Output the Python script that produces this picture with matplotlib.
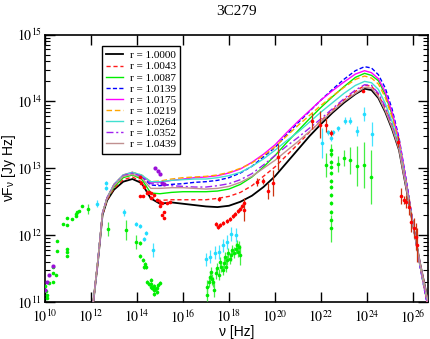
import numpy as np
import matplotlib
matplotlib.use("Agg")
import matplotlib.pyplot as plt
from matplotlib.ticker import FixedLocator, LogLocator, NullFormatter, NullLocator

plt.rcParams['mathtext.fontset'] = 'stix'
plt.rcParams['font.family'] = ['Liberation Serif', 'DejaVu Serif']

# ---------------- model curves (log10 nu, log10 nuFnu) ----------------
lognu_grid = [12.1, 12.3, 12.5, 12.7, 13.0, 13.4, 13.8, 14.2, 14.6, 15.0, 15.5, 16.0,
              16.5, 17.0, 17.5, 18.0, 18.5, 19.0, 19.5, 20.0, 20.5, 21.0, 21.5, 22.0,
              22.5, 23.0, 23.5, 23.9, 24.2, 24.5, 24.8, 25.1, 25.4, 25.7, 26.0, 26.3, 26.67]

r_labels = ["r = 1.0000", "r = 1.0043", "r = 1.0087", "r = 1.0139", "r = 1.0175",
            "r = 1.0219", "r = 1.0264", "r = 1.0352", "r = 1.0439"]

model_r10000 = [11.0, 11.6, 12.30, 12.52, 12.68, 12.80, 12.84, 12.78, 12.55, 12.47, 12.49, 12.47,
                12.45, 12.43, 12.42, 12.44, 12.50, 12.59, 12.72, 12.88, 13.08, 13.28, 13.48, 13.66,
                13.83, 13.98, 14.11, 14.19, 14.17, 14.05, 13.84, 13.58, 13.27, 12.72, 12.17, 11.60, 11.00]
model_r10043 = [11.0, 11.6, 12.30, 12.53, 12.70, 12.83, 12.87, 12.80, 12.57, 12.52, 12.53, 12.53,
                12.53, 12.53, 12.55, 12.58, 12.64, 12.74, 12.88, 13.02, 13.19, 13.36, 13.54, 13.71,
                13.87, 14.02, 14.15, 14.24, 14.23, 14.10, 13.89, 13.63, 13.30, 12.74, 12.17, 11.59, 10.98]
model_r10087 = [11.0, 11.62, 12.32, 12.55, 12.72, 12.86, 12.90, 12.84, 12.63, 12.62, 12.64, 12.65,
                12.65, 12.65, 12.66, 12.69, 12.76, 12.87, 13.02, 13.19, 13.38, 13.56, 13.74, 13.91,
                14.07, 14.22, 14.36, 14.42, 14.39, 14.31, 14.10, 13.80, 13.40, 12.81, 12.19, 11.56, 10.91]
model_r10139 = [11.0, 11.62, 12.33, 12.56, 12.75, 12.89, 12.93, 12.88, 12.75, 12.74, 12.76, 12.77,
                12.79, 12.80, 12.82, 12.86, 12.93, 13.03, 13.17, 13.31, 13.50, 13.68, 13.85, 14.02,
                14.18, 14.33, 14.46, 14.52, 14.50, 14.40, 14.20, 13.88, 13.45, 12.85, 12.20, 11.55, 10.88]
model_r10175 = [11.0, 11.62, 12.33, 12.56, 12.76, 12.90, 12.94, 12.89, 12.79, 12.79, 12.82, 12.84,
                12.86, 12.87, 12.89, 12.93, 12.99, 13.09, 13.21, 13.35, 13.53, 13.70, 13.86, 14.02,
                14.16, 14.29, 14.41, 14.46, 14.43, 14.34, 14.14, 13.83, 13.42, 12.83, 12.19, 11.56, 10.90]
model_r10219 = [11.0, 11.62, 12.33, 12.56, 12.76, 12.90, 12.94, 12.90, 12.80, 12.81, 12.84, 12.86,
                12.87, 12.88, 12.90, 12.94, 13.00, 13.08, 13.19, 13.32, 13.48, 13.64, 13.79, 13.94,
                14.08, 14.21, 14.33, 14.38, 14.35, 14.26, 14.06, 13.76, 13.38, 12.80, 12.19, 11.57, 10.93]
model_r10264 = [11.0, 11.62, 12.33, 12.56, 12.76, 12.90, 12.94, 12.90, 12.80, 12.80, 12.82, 12.83,
                12.84, 12.84, 12.86, 12.89, 12.94, 13.03, 13.14, 13.27, 13.41, 13.54, 13.69, 13.84,
                13.98, 14.12, 14.24, 14.30, 14.28, 14.18, 13.97, 13.69, 13.33, 12.77, 12.18, 11.58, 10.96]
model_r10352 = [11.0, 11.62, 12.33, 12.56, 12.75, 12.89, 12.93, 12.88, 12.77, 12.76, 12.74, 12.73,
                12.72, 12.72, 12.74, 12.77, 12.83, 12.92, 13.05, 13.19, 13.33, 13.46, 13.60, 13.74,
                13.89, 14.04, 14.17, 14.25, 14.24, 14.12, 13.92, 13.64, 13.31, 12.75, 12.18, 11.59, 10.97]
model_r10439 = [11.0, 11.63, 12.33, 12.55, 12.74, 12.88, 12.91, 12.86, 12.70, 12.70, 12.71, 12.71,
                12.70, 12.69, 12.70, 12.73, 12.79, 12.88, 13.00, 13.12, 13.26, 13.40, 13.55, 13.70,
                13.85, 14.00, 14.12, 14.21, 14.20, 14.07, 13.86, 13.60, 13.28, 12.73, 12.17, 11.60, 10.99]

models = [model_r10000, model_r10043, model_r10087, model_r10139, model_r10175,
          model_r10219, model_r10264, model_r10352, model_r10439]
model_colors = ['#000000', '#ff1a1a', '#00ee00', '#0000ff', '#ff00ff',
                '#ffa500', '#40e0d0', '#a020f0', '#c09090']
model_styles = ['-', (0, (3, 2)), '-', (0, (3, 1.6)), '-', (0, (4, 2)), '-', (0, (5, 2, 1.5, 2)), '-']

# ---------------- data points (log10 nu, log10 nuFnu, error in dex) ----------------
green_lognu = [10.00, 10.04, 10.07, 10.07, 10.19, 10.36, 10.34, 10.48, 10.36, 10.54, 10.54, 10.80,
               10.97, 10.97, 10.97, 10.97, 10.97, 11.19, 11.35, 11.35, 11.41, 11.48, 11.60, 11.86,
               12.72, 13.54,
               13.97, 14.15, 14.15, 14.25, 14.34, 14.40, 14.29,
               14.45, 14.54, 14.59, 14.63, 14.67, 14.72, 14.76, 14.80, 14.85, 14.89, 14.93, 14.98,
               14.72, 14.63,
               17.03, 17.06, 17.17, 17.21, 17.32, 17.35, 17.42, 17.50, 17.57, 17.64, 17.72, 17.79,
               17.86, 17.93, 17.96, 18.05, 18.11, 18.15, 18.22, 18.30, 18.37, 18.40, 18.44, 18.48,
               17.12, 17.25, 17.60, 17.82,
               22.23, 22.74, 23.00, 23.28, 23.57, 23.87, 24.19,
               22.45, 22.45, 22.45, 22.45, 22.45, 22.45, 22.45, 22.45, 22.45, 22.45, 22.45, 22.45]
green_logF = [11.24, 11.16, 11.11, 11.06, 11.29, 11.30, 11.44, 11.41, 11.52, 11.77, 11.91, 12.17,
              12.15, 12.25, 11.80, 11.75, 11.69, 12.24, 12.28, 12.31, 12.34, 12.36, 12.43, 12.39,
              12.09, 12.08,
              11.90, 11.88, 11.69, 11.63, 11.57, 11.53, 11.53,
              11.30, 11.27, 11.23, 11.27, 11.21, 11.18, 11.24, 11.20, 11.15, 11.21, 11.26, 11.29,
              11.12, 11.33,
              11.23, 11.11, 11.38, 11.45, 11.30, 11.18, 11.43, 11.51, 11.41, 11.53, 11.48, 11.58,
              11.53, 11.63, 11.73, 11.65, 11.70, 11.78, 11.74, 11.80, 11.85, 11.75, 11.83, 11.70,
              11.30, 11.34, 11.60, 11.67,
              13.05, 13.07, 13.15, 13.12, 13.03, 13.05, 12.87,
              13.27, 13.22, 13.10, 13.02, 12.93, 12.81, 12.72, 12.60, 12.48, 12.35, 12.23, 12.10]
green_err = [0.0, 0.0, 0.0, 0.0, 0.0, 0.0, 0.0, 0.0, 0.0, 0.0, 0.0, 0.0,
             0.0, 0.0, 0.0, 0.0, 0.0, 0.0, 0.0, 0.0, 0.0, 0.0, 0.0, 0.08,
             0.10, 0.15,
             0.10, 0.03, 0.03, 0.03, 0.03, 0.03, 0.03,
             0.03, 0.03, 0.03, 0.03, 0.03, 0.03, 0.03, 0.03, 0.03, 0.03, 0.03, 0.03,
             0.03, 0.03,
             0.10, 0.10, 0.08, 0.08, 0.08, 0.10, 0.08, 0.08, 0.08, 0.08, 0.08, 0.08,
             0.08, 0.08, 0.08, 0.08, 0.08, 0.08, 0.08, 0.08, 0.08, 0.08, 0.08, 0.15,
             0.08, 0.08, 0.08, 0.08,
             0.18, 0.12, 0.12, 0.20, 0.30, 0.35, 0.40,
             0.10, 0.03, 0.03, 0.03, 0.03, 0.03, 0.03, 0.03, 0.03, 0.03, 0.03, 0.20]

cyan_lognu = [12.27, 12.66, 12.66, 13.45, 13.94, 14.15, 14.40, 14.29, 14.70,
              16.99, 17.17, 17.38, 17.57, 17.76, 17.93, 18.11, 18.30,
              22.04, 22.33, 22.52, 22.42, 22.76, 23.03, 23.28, 23.58, 23.87, 24.24]
cyan_logF = [12.47, 12.78, 12.70, 12.34, 12.17, 12.13, 12.04, 11.95, 11.78,
             11.64, 11.68, 11.74, 11.75, 11.85, 11.90, 12.02, 12.00,
             13.38, 13.54, 13.54, 13.45, 13.60, 13.71, 13.71, 13.56, 13.81, 13.51]
cyan_err = [0.05, 0.03, 0.03, 0.05, 0.03, 0.03, 0.03, 0.03, 0.10,
            0.10, 0.10, 0.10, 0.10, 0.10, 0.10, 0.10, 0.10,
            0.22, 0.04, 0.04, 0.04, 0.04, 0.05, 0.05, 0.08, 0.10, 0.18]

red_lognu = [14.15, 14.19, 14.29, 14.15, 14.27, 14.51, 14.63, 14.73, 14.85, 14.99, 15.02, 15.10,
             15.17, 15.10, 15.17, 15.43, 15.31, 14.44, 14.59,
             17.42, 17.51, 17.60, 17.73, 17.90, 18.03, 18.17, 18.25, 18.38, 18.47, 18.56, 18.65,
             17.55, 18.66, 19.24, 19.46, 19.68, 19.90, 20.12,
             21.60, 21.98, 22.20, 22.42, 23.83, 25.36,
             25.50, 25.63, 25.72, 25.85, 25.94, 26.03, 26.13, 26.20]
red_logF = [12.87, 12.78, 12.72, 12.58, 12.58, 12.65, 12.63, 12.60, 12.53, 12.50, 12.43, 12.48,
            12.35, 12.30, 12.25, 12.50, 12.48, 12.63, 12.55,
            12.17, 12.12, 12.15, 12.18, 12.21, 12.24, 12.29, 12.32, 12.36, 12.39, 12.44, 12.48,
            12.54, 12.38, 12.80, 12.81, 12.66, 12.78, 13.17,
            13.71, 13.65, 13.65, 13.53, 14.16, 13.40,
            12.58, 12.53, 12.50, 12.42, 12.20, 12.11, 11.98, 11.85]
red_err = [0.0, 0.0, 0.0, 0.0, 0.0, 0.0, 0.0, 0.0, 0.0, 0.0, 0.0, 0.0,
           0.0, 0.0, 0.0, 0.0, 0.0, 0.0, 0.0,
           0.03, 0.03, 0.03, 0.03, 0.03, 0.03, 0.03, 0.03, 0.03, 0.03, 0.03, 0.03,
           0.03, 0.17, 0.06, 0.04, 0.12, 0.20, 0.20,
           0.12, 0.20, 0.10, 0.04, 0.0, 0.08,
           0.12, 0.06, 0.10, 0.12, 0.15, 0.15, 0.20, 0.25]

purple_lognu = [10.00, 10.09, 10.19, 10.36, 14.80, 14.90, 14.98, 15.10, 15.17]
purple_logF = [11.18, 11.30, 11.40, 11.54, 13.01, 12.96, 12.91, 12.78, 12.76]

x_ticks = [1e10, 1e12, 1e14, 1e16, 1e18, 1e20, 1e22, 1e24, 1e26]
x_tick_labels = [r'$10^{10}$', r'$10^{12}$', r'$10^{14}$', r'$10^{16}$', r'$10^{18}$',
                 r'$10^{20}$', r'$10^{22}$', r'$10^{24}$', r'$10^{26}$']
y_ticks = [1e11, 1e12, 1e13, 1e14, 1e15]
y_tick_labels = [r'$10^{11}$', r'$10^{12}$', r'$10^{13}$', r'$10^{14}$', r'$10^{15}$']

# ---------------- figure ----------------
fig = plt.figure(figsize=(4.30, 3.39), dpi=100)
ax = fig.add_axes([0.1047, 0.109, 0.8913, 0.789])
ax.set_xscale('log')
ax.set_yscale('log')

nu_grid = 10 ** np.array(lognu_grid)
for ys, c, ls, lab in zip(models, model_colors, model_styles, r_labels):
    lw = 1.3 if c == '#000000' else 1.0
    ax.plot(nu_grid, 10 ** np.array(ys), color=c, ls=ls, lw=lw, label=lab, zorder=3)


def draw_points(lx, ly, le, color, ecolor, zorder=4):
    lx = np.array(lx); ly = np.array(ly); le = np.array(le)
    x = 10 ** lx
    y = 10 ** ly
    lo = y - 10 ** (ly - le)
    hi = 10 ** (ly + le) - y
    ax.errorbar(x, y, yerr=[lo, hi], fmt='o', ms=2.6, color=color, ecolor=ecolor,
                elinewidth=0.9, capsize=0, mew=0, zorder=zorder)


draw_points(green_lognu, green_logF, green_err, '#00ee00', '#44ee44')
draw_points(cyan_lognu, cyan_logF, cyan_err, '#22ddff', '#44e4ff')
draw_points(red_lognu, red_logF, red_err, '#ff0000', '#cc3311', zorder=5)
ax.plot(10 ** np.array(purple_lognu), 10 ** np.array(purple_logF), 'o', ms=3.0,
        color='#9a10d8', mew=0, zorder=5)

ax.set_xlim(1e10, 10 ** 26.67)
ax.set_ylim(1e11, 1e15)

ax.xaxis.set_major_locator(FixedLocator(x_ticks))
ax.set_xticklabels(x_tick_labels)
ax.xaxis.set_minor_locator(NullLocator())
ax.yaxis.set_major_locator(FixedLocator(y_ticks))
ax.set_yticklabels(y_tick_labels)
ax.yaxis.set_minor_locator(LogLocator(base=10, subs=np.arange(2, 10), numticks=20))
ax.yaxis.set_minor_formatter(NullFormatter())

ax.tick_params(which='both', direction='in', top=True, right=True, labelsize=10)
ax.tick_params(axis='x', pad=5)
ax.tick_params(axis='y', pad=2)
ax.tick_params(which='major', length=7, width=1.0)
ax.tick_params(which='minor', length=3.5, width=0.8)
for s in ax.spines.values():
    s.set_linewidth(1.2)

ax.set_xlabel('ν [Hz]', family=['Liberation Sans', 'DejaVu Sans'], fontsize=10)
ax.xaxis.set_label_coords(0.5, -0.085)
ax.set_ylabel(r'νF$_\mathregular{ν}$ [Jy Hz]', family=['Liberation Sans', 'DejaVu Sans'],
              fontsize=10)
ax.yaxis.set_label_coords(-0.07, 0.5)
ax.set_title('3C279', fontsize=11, pad=14)

leg = ax.legend(loc='upper left', bbox_to_anchor=(0.148, 0.957), fontsize=8,
                frameon=True, fancybox=False, framealpha=1, edgecolor='black',
                handlelength=1.5, handletextpad=0.6, labelspacing=0.12, borderpad=0.4,
                borderaxespad=0)
leg.get_frame().set_linewidth(1.0)
leg.set_zorder(10)

fig.savefig('out.png', dpi=100)
